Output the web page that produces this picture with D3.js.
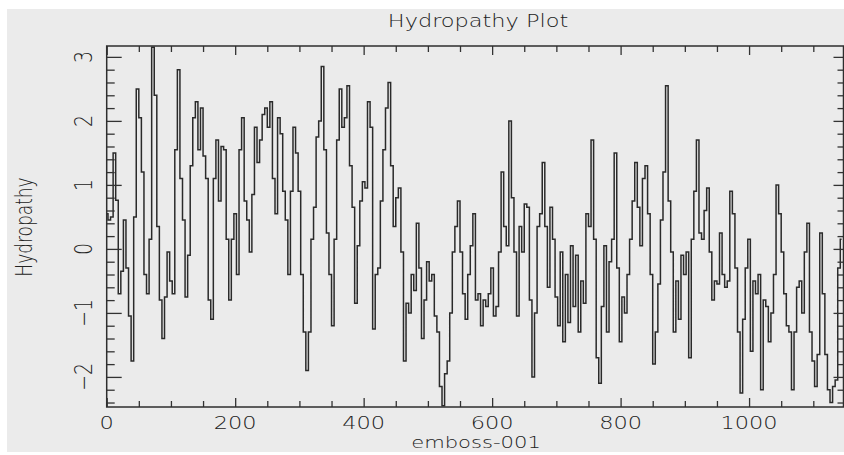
<!DOCTYPE html>
<html>
<head>
<meta charset="utf-8">
<script src="https://cdn.jsdelivr.net/npm/d3@7"></script>
<style>
  body { margin: 0; background: #fff; }
  text { font-family: "DejaVu Sans", sans-serif; font-weight: 300; fill: #222; }
</style>
</head>
<body>
<script>
// residue spacing of the samples
var step = 4;

// hydropathy values, residues 0..188
var segA = [0.55, 0.45, 0.5, 1.5, 0.76, -0.7, -0.35, 0.45, -0.3, -1.05,
  -1.75, 0.5, 2.5, 2.05, 1.2, -0.4, -0.7, 0.15, 3.15, 2.4,
  0.35, -0.8, -1.4, -0.75, -0.05, -0.5, -0.7, 1.55, 2.8, 1.1,
  0.45, -0.75, -0.1, 1.3, 2.05, 2.3, 1.55, 2.2, 1.45, 1.1,
  -0.8, -1.1, 1.1, 1.7, 0.75, 1.6, 1.55, 0.15];
// residues 192..376
var segB = [-0.8, 0.15, 0.55, -0.4, 1.55, 2.05, 0.75, 0.45, -0.05, 0.85,
  1.9, 1.35, 1.7, 2.1, 2.2, 1.9, 2.3, 1.1, 0.55, 2.05,
  1.8, 0.9, 0.45, -0.4, 0.9, 1.9, 1.5, 0.9, -0.4, -1.3,
  -1.9, -1.3, 0.15, 0.65, 1.75, 2.0, 2.85, 1.55, 0.25, -0.4,
  -1.2, 0.15, 1.7, 2.5, 1.9, 2.05, 2.55];
// residues 380..560
var segC = [1.3, 0.65, -0.85, 0.05, 0.75, 1.05, 0.95, 2.3, 1.9, -1.25,
  -0.4, -0.3, 0.75, 1.55, 2.2, 2.6, 1.3, 0.35, 0.8, 0.95,
  -0.05, -1.75, -0.85, -1.0, -0.4, -0.65, 0.4, -0.3, -1.4, -0.8,
  -0.2, -0.5, -0.4, -1.05, -1.3, -2.15, -2.45, -1.95, -1.75, -1.0,
  -0.05, 0.35, 0.75, -0.05, -0.7, -1.1];
// residues 564..748
var segD = [-0.4, 0.05, 0.55, -0.8, -0.7, -1.2, -0.8, -0.9, -0.7, -0.3,
  -1.05, -0.9, -0.05, 1.2, 0.35, 0.05, 2.0, 0.8, -0.05, -1.05,
  0.35, -0.05, 0.7, 0.65, -0.8, -2.0, -1.0, 0.35, 0.55, 1.35,
  0.35, -0.6, 0.65, 0.15, -0.75, -1.2, -0.05, -1.45, -0.4, -1.15,
  0.05, -0.9, -0.1, -1.3, -0.5, -0.85, 0.55];
// residues 752..936
var segE = [0.35, 1.7, 0.15, -1.7, -2.1, -0.9, 0.05, -1.3, -0.2, 0.15,
  1.5, -0.3, -1.45, -0.75, -1.0, -0.4, 0.15, 0.75, 1.35, 0.65,
  0.05, 1.1, 1.3, 0.55, -0.4, -1.8, -1.3, -0.55, 0.45, 1.2,
  2.55, 0.75, -0.05, -1.3, -0.5, -1.1, -0.1, -0.4, -0.05, -1.7,
  0.15, 0.9, 1.7, 0.25, 0.15, 0.6, 0.95];
// residues 940..1144
var segF = [-0.05, -0.8, -0.5, -0.55, 0.25, -0.4, -0.6, -0.5, 0.9, 0.55,
  -0.3, -1.3, -2.25, -1.1, -0.3, 0.15, -1.6, -0.5, -0.7, -0.4,
  -2.2, -0.8, -0.9, -1.45, -1.0, -0.4, 1.0, 0.55, -0.05, -0.7,
  -1.2, -1.3, -2.2, -1.3, -0.6, -0.5, -1.0, -0.05, 0.4, -1.3,
  -1.75, -2.15, -1.65, 0.25, -0.7, -1.65, -2.2, -2.4, -2.15, -2.05,
  -0.3, 0.15];

var hydro = segA.concat(segB, segC, segD, segE, segF);

var xTickLabels = [0, 200, 400, 600, 800, 1000];
var yTickLabels = [-2, -1, 0, 1, 2, 3];

var width = 844, height = 455;
var plotLeft = 106.7, plotRight = 843.5, plotTop = 46, plotBottom = 407;
var stretch = 1.32; // glyphs in the picture are wider than tall

var svg = d3.select("body").append("svg")
  .attr("width", width)
  .attr("height", height);

svg.append("rect")
  .attr("x", 7).attr("y", 9)
  .attr("width", width - 7).attr("height", 443)
  .attr("fill", "#ebebeb");

var x = d3.scaleLinear().domain([0, 1147]).range([plotLeft, plotRight]);
var y = d3.scaleLinear().domain([-2.47, 3.17]).range([plotBottom, plotTop]);

svg.append("clipPath").attr("id", "plotclip")
  .append("rect")
  .attr("x", plotLeft).attr("y", plotTop)
  .attr("width", plotRight - plotLeft).attr("height", plotBottom - plotTop);

var line = d3.line()
  .x(function (d, i) { return x(i * step); })
  .y(function (d) { return y(d); })
  .curve(d3.curveStep);

svg.append("path")
  .datum(hydro)
  .attr("clip-path", "url(#plotclip)")
  .attr("fill", "none")
  .attr("stroke", "#2a2a2a")
  .attr("stroke-width", 1.5)
  .attr("d", line);

// ticks, all pointing inward
function addAxis(axis, tx, ty, values, size) {
  var g = svg.append("g")
    .attr("transform", "translate(" + tx + "," + ty + ")")
    .call(axis.tickValues(values).tickSize(-size).tickFormat(""));
  g.select(".domain").remove();
  g.selectAll(".tick line").attr("stroke", "#333").attr("stroke-width", 1.3);
}

var xMinor = d3.range(50, 1147, 50).filter(function (v) { return v % 200 !== 0; });
var xMajor = d3.range(0, 1147, 200);
var yMinor = d3.range(-2.4, 3.17, 0.2).filter(function (v) {
  return Math.abs(v - Math.round(v)) > 0.01;
});

addAxis(d3.axisBottom(x), 0, plotBottom, xMinor, 6);
addAxis(d3.axisBottom(x), 0, plotBottom, xMajor, 9);
addAxis(d3.axisTop(x), 0, plotTop, xMinor, 6);
addAxis(d3.axisTop(x), 0, plotTop, xMajor, 9);
addAxis(d3.axisLeft(y), plotLeft, 0, yMinor, 8);
addAxis(d3.axisLeft(y), plotLeft, 0, yTickLabels, 15);
addAxis(d3.axisRight(y), plotRight, 0, yMinor, 6);
addAxis(d3.axisRight(y), plotRight, 0, yTickLabels, 10);

// frame
svg.append("rect")
  .attr("x", plotLeft).attr("y", plotTop)
  .attr("width", plotRight - plotLeft).attr("height", plotBottom - plotTop)
  .attr("fill", "none")
  .attr("stroke", "#2e2e2e")
  .attr("stroke-width", 1.5);

var fmt = d3.format("d");

svg.selectAll(".xlab")
  .data(xTickLabels)
  .enter()
  .append("text")
  .attr("class", "xlab")
  .attr("text-anchor", "middle")
  .attr("font-size", 17)
  .attr("transform", function (d) {
    return "translate(" + x(d) + ",429) scale(" + stretch + ",1)";
  })
  .text(function (d) { return fmt(d); });

svg.selectAll(".ylab")
  .data(yTickLabels)
  .enter()
  .append("text")
  .attr("class", "ylab")
  .attr("text-anchor", "middle")
  .attr("font-size", 19)
  .attr("transform", function (d) {
    return "translate(92," + y(d) + ") scale(" + stretch + ",1) rotate(-90)";
  })
  .text(function (d) { return fmt(d); });

svg.append("text")
  .attr("text-anchor", "middle")
  .attr("font-size", 17)
  .attr("transform", "translate(478,27) scale(" + stretch + ",1)")
  .text("Hydropathy Plot");

svg.append("text")
  .attr("text-anchor", "middle")
  .attr("font-size", 16)
  .attr("transform", "translate(476,448) scale(" + stretch + ",1)")
  .text("emboss-001");

svg.append("text")
  .attr("text-anchor", "middle")
  .attr("font-size", 17)
  .attr("transform", "translate(32,227) scale(" + stretch + ",1) rotate(-90)")
  .text("Hydropathy");
</script>
</body>
</html>
